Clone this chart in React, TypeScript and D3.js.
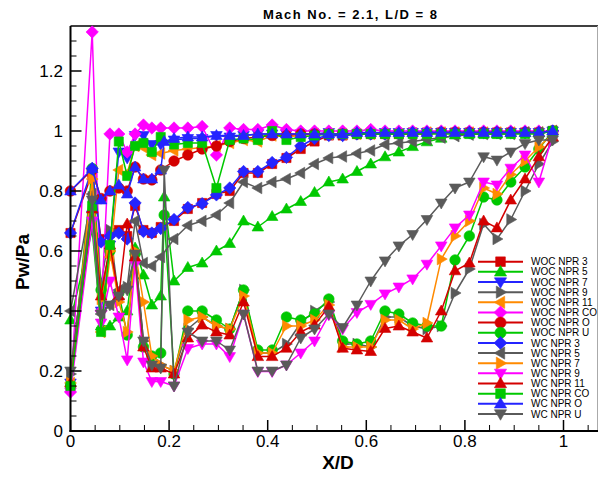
import React from 'react';
import * as d3 from 'd3';

// Pressure-tap stations along the cavity floor (X/D)
const X_STATIONS = [
  0, 0.044, 0.062, 0.08, 0.098, 0.115, 0.131, 0.148, 0.165, 0.183, 0.19, 0.21, 0.238,
  0.267, 0.296, 0.323, 0.351, 0.38, 0.409, 0.438, 0.467, 0.495, 0.524, 0.552, 0.581,
  0.609, 0.638, 0.666, 0.694, 0.723, 0.752, 0.78, 0.809, 0.838, 0.865, 0.893, 0.922,
  0.95, 0.978,
];

type V = number | null;

const WOC_NPR_3: V[] = [0.66, 0.86, 0.64, 0.66, 0.67, 0.65, 0.75, 0.67, 0.66, 0.68, null, 0.7, 0.74, 0.76, 0.79, 0.8, 0.86, 0.86, 0.89, 0.91, 0.94, 0.965, 0.985, 0.985, 0.99, 0.99, 0.99, 0.99, 0.995, 0.995, 0.995, 0.995, 0.995, 0.995, 0.995, 0.995, 0.995, 0.995, 1.0];
const WOC_NPR_5: V[] = [0.37, 0.67, 0.35, 0.35, 0.38, 0.4, 0.61, 0.52, 0.42, 0.45, 0.78, 0.5, 0.545, 0.56, 0.6, 0.625, 0.7, 0.68, 0.715, 0.74, 0.765, 0.795, 0.83, 0.84, 0.865, 0.89, 0.914, 0.93, 0.948, 0.964, 0.976, 0.987, 0.99, 0.99, 0.99, 0.995, 0.995, 0.995, 1.0];
const WOC_NPR_7: V[] = [0.16, 0.72, 0.4, 0.62, 0.93, 0.91, 0.985, 0.985, 0.955, 0.955, null, 0.97, 0.975, 0.975, 0.985, 0.98, 0.985, 0.99, 0.99, 0.99, 0.99, 0.99, 0.995, 0.985, 0.99, 0.99, 0.995, 0.995, 0.995, 0.995, 0.995, 0.995, 0.995, 0.995, 0.995, 0.995, 0.995, 0.995, 1.0];
const WOC_NPR_9: V[] = [0.19, 0.78, 0.49, 0.67, 0.44, 0.48, 0.59, 0.3, 0.22, 0.22, null, 0.2, 0.34, 0.38, 0.35, 0.34, 0.47, 0.26, 0.26, 0.29, 0.36, 0.4, 0.43, 0.29, 0.29, 0.28, 0.38, 0.38, 0.35, 0.34, 0.35, 0.46, 0.54, 0.69, 0.64, 0.705, 0.8, 0.89, 0.965];
const WOC_NPR_11: V[] = [0.16, 0.84, 0.33, 0.58, 0.87, 0.86, 0.95, 0.945, 0.92, 0.925, null, 0.935, 0.94, 0.945, 0.95, 0.96, 0.97, 0.965, 0.985, 0.98, 0.985, 0.99, 0.99, 0.99, 0.99, 0.99, 0.99, 0.99, 0.99, 0.995, 0.995, 0.995, 0.995, 0.995, 0.995, 0.995, 0.995, 0.995, 1.0];
const WOC_NPR_CO: V[] = [0.13, 1.33, 0.4, 0.99, 0.99, 0.93, 0.99, 1.02, 1.01, 1.01, null, 1.01, 1.01, 1.015, 0.92, 1.01, 1.005, 1.005, 1.02, 1.005, 1.0, 1.0, 1.0, 1.0, 1.0, 1.005, 1.0, 1.0, 1.0, 1.0, 1.0, 1.0, 1.0, 1.0, 1.0, 1.0, 1.0, 1.0, 1.0];
const WOC_NPR_O: V[] = [0.8, 0.87, 0.775, 0.8, 0.81, 0.8, 0.88, 0.84, 0.837, 0.87, null, 0.9, 0.92, 0.94, 0.95, 0.965, 0.975, 0.98, 0.985, 0.985, 0.99, 0.99, 0.99, 0.99, 0.99, 0.99, 0.99, 0.99, 0.99, 0.99, 0.995, 0.995, 0.995, 0.995, 0.995, 0.995, 0.995, 0.995, 1.0];
const WOC_NPR_U: V[] = [0.15, 0.875, 0.47, 0.6, 0.46, 0.32, 0.59, 0.28, 0.25, 0.26, 0.72, 0.19, 0.4, 0.4, 0.37, 0.34, 0.47, 0.27, 0.27, 0.38, 0.37, 0.39, 0.44, 0.3, 0.29, 0.3, 0.4, 0.39, 0.36, 0.35, 0.35, 0.57, 0.65, 0.78, 0.77, 0.83, 0.88, 0.94, 1.0];
const WC_NPR_3: V[] = [0.66, 0.875, 0.63, 0.65, 0.66, 0.64, 0.76, 0.665, 0.66, 0.675, null, 0.705, 0.745, 0.758, 0.787, 0.81, 0.865, 0.865, 0.895, 0.912, 0.95, 0.975, 0.985, 0.985, 0.99, 0.99, 0.99, 0.99, 0.995, 0.995, 0.995, 0.995, 0.995, 0.995, 0.995, 0.995, 0.995, 0.995, 1.0];
const WC_NPR_5: V[] = [0.4, 0.79, 0.39, 0.42, 0.47, 0.48, 0.7, 0.56, 0.55, 0.58, null, 0.64, 0.685, 0.7, 0.72, 0.76, 0.83, 0.81, 0.83, 0.84, 0.86, 0.89, 0.91, 0.915, 0.925, 0.935, 0.955, 0.96, 0.965, 0.972, 0.978, 0.983, 0.988, 0.99, 0.99, 0.99, 0.995, 0.995, 1.0];
const WC_NPR_7: V[] = [0.16, 0.84, 0.44, 0.6, 0.43, 0.33, 0.6, 0.43, 0.25, 0.22, null, 0.2, 0.37, 0.38, 0.35, 0.34, 0.45, 0.26, 0.26, 0.35, 0.35, 0.37, 0.42, 0.28, 0.28, 0.28, 0.37, 0.37, 0.34, 0.36, 0.573, 0.65, 0.7, 0.81, 0.79, 0.855, 0.9, 0.947, 0.99];
const WC_NPR_9: V[] = [0.13, 0.7, 0.36, 0.5, 0.38, 0.237, 0.556, 0.23, 0.165, 0.165, null, 0.15, 0.275, 0.29, 0.29, 0.248, 0.39, 0.198, 0.198, 0.22, 0.26, 0.3, 0.387, 0.34, 0.395, 0.422, 0.457, 0.48, 0.507, 0.556, 0.617, 0.677, 0.72, 0.83, 0.82, 0.876, 0.92, 0.83, 0.985];
const WC_NPR_11: V[] = [0.16, 0.74, 0.45, 0.62, 0.45, 0.69, 0.58, 0.28, 0.21, 0.21, null, 0.19, 0.31, 0.353, 0.33, 0.32, 0.43, 0.248, 0.248, 0.276, 0.33, 0.353, 0.415, 0.276, 0.27, 0.265, 0.342, 0.35, 0.33, 0.31, 0.4, 0.534, 0.56, 0.7, 0.677, 0.77, 0.84, 0.914, 0.98];
const WC_NPR_CO: V[] = [0.15, 0.75, 0.33, 0.62, 0.965, 0.85, 0.95, 0.96, 0.93, 0.98, null, 0.955, 0.96, 0.96, 0.81, 0.97, 0.975, 0.97, 1.0, 0.97, 0.98, 0.985, 0.99, 0.99, 0.99, 0.99, 0.99, 0.99, 0.99, 0.99, 0.99, 0.99, 0.99, 0.99, 0.99, 0.99, 0.99, 0.99, 1.0];
const WC_NPR_O: V[] = [0.8, 0.875, 0.77, 0.8, 0.82, 0.79, 0.88, 0.84, 0.84, 0.87, 0.965, 0.975, 0.98, 0.98, 0.985, 0.985, 0.985, 0.99, 0.99, 0.99, 0.99, 0.99, 0.99, 0.99, 0.995, 0.995, 0.995, 0.995, 0.995, 0.995, 0.995, 0.995, 0.995, 0.995, 0.995, 0.995, 0.995, 0.995, 1.0];
const WC_NPR_U: V[] = [0.2, 0.77, 0.39, 0.42, 0.45, 0.47, 0.59, 0.3, 0.22, 0.21, 0.87, 0.15, 0.33, 0.3, 0.3, 0.27, 0.39, 0.2, 0.2, 0.22, 0.31, 0.34, 0.39, 0.345, 0.42, 0.5, 0.567, 0.617, 0.655, 0.705, 0.76, 0.81, 0.83, 0.914, 0.903, 0.93, 0.958, 0.97, 0.97];

const SERIES_NAMES = [
  'WOC NPR 3', 'WOC NPR 5', 'WOC NPR 7', 'WOC NPR 9', 'WOC NPR 11', 'WOC NPR CO', 'WOC NPR O', 'WOC NPR U',
  'WC NPR 3', 'WC NPR 5', 'WC NPR 7', 'WC NPR 9', 'WC NPR 11', 'WC NPR CO', 'WC NPR O', 'WC NPR U',
];
const SERIES_VALUES = [
  WOC_NPR_3, WOC_NPR_5, WOC_NPR_7, WOC_NPR_9, WOC_NPR_11, WOC_NPR_CO, WOC_NPR_O, WOC_NPR_U,
  WC_NPR_3, WC_NPR_5, WC_NPR_7, WC_NPR_9, WC_NPR_11, WC_NPR_CO, WC_NPR_O, WC_NPR_U,
];

const RED = '#d40000';
const GREEN = '#00c800';
const BLUE = '#2424ff';
const GRAY = '#5a5a5a';
const ORANGE = '#ff8a00';
const MAGENTA = '#ff00ff';

const SERIES_COLORS = [RED, GREEN, BLUE, GRAY, ORANGE, MAGENTA, RED, GREEN, BLUE, GRAY, ORANGE, MAGENTA, RED, GREEN, BLUE, GRAY];
const SERIES_SHAPES = [
  'square', 'up', 'down', 'right', 'left', 'diamond', 'circle', 'circle',
  'diamond', 'left', 'right', 'down', 'up', 'square', 'up', 'down',
];

const X_TICKS = [0, 0.2, 0.4, 0.6, 0.8, 1];
const X_TICK_LABELS = ['0', '0.2', '0.4', '0.6', '0.8', '1'];
const Y_TICKS = [0, 0.2, 0.4, 0.6, 0.8, 1, 1.2];
const Y_TICK_LABELS = ['0', '0.2', '0.4', '0.6', '0.8', '1', '1.2'];

const FONT = 'Liberation Sans, Arial, Helvetica, sans-serif';

function markerPath(shape: string, k = 1): string {
  switch (shape) {
    case 'square': {
      const h = 4.6 * k;
      return `M${-h},${-h}H${h}V${h}H${-h}Z`;
    }
    case 'diamond': {
      const h = 6.2 * k;
      return `M0,${-h}L${h},0L0,${h}L${-h},0Z`;
    }
    case 'up':
      return `M0,${-6 * k}L${5.8 * k},${4 * k}L${-5.8 * k},${4 * k}Z`;
    case 'down':
      return `M0,${6 * k}L${5.8 * k},${-4 * k}L${-5.8 * k},${-4 * k}Z`;
    case 'right':
      return `M${6 * k},0L${-4 * k},${-5.8 * k}L${-4 * k},${5.8 * k}Z`;
    case 'left':
      return `M${-6 * k},0L${4 * k},${-5.8 * k}L${4 * k},${5.8 * k}Z`;
    default: {
      const r = 5.3 * k;
      return `M${-r},0A${r},${r} 0 1,0 ${r},0A${r},${r} 0 1,0 ${-r},0Z`;
    }
  }
}

export default function App() {
  const W = 600;
  const H = 477;
  const x = d3.scaleLinear().domain([0, 1.07]).range([70.5, 70.5 + 493 * 1.07]);
  const y = d3.scaleLinear().domain([0, 1.35]).range([431, 431 - 300 * 1.35]);

  const line = d3
    .line<[number, number]>()
    .x((d) => x(d[0]))
    .y((d) => y(d[1]));

  const seriesPoints = SERIES_VALUES.map((vals) =>
    vals
      .map((v, i) => (v === null ? null : ([X_STATIONS[i], v] as [number, number])))
      .filter((p): p is [number, number] => p !== null)
  );

  const xMinor = d3.range(0, 21).map((i) => i * 0.05 + 0.05).filter((v) => v < 1.07 && Math.abs(v * 5 - Math.round(v * 5)) > 1e-6);
  const yMinor = d3.range(1, 27).map((i) => i * 0.05).filter((v) => v < 1.35 && Math.abs(v * 5 - Math.round(v * 5)) > 1e-6);

  const x0 = x(0);
  const y0 = y(0);
  const xr = x(1.07);
  const yt = y(1.35);

  const legendTop = 261.7;
  const legendStep = 10.15;

  return (
    <svg
      width={W}
      height={H}
      viewBox={`0 0 ${W} ${H}`}
      style={{ position: 'absolute', left: 0, top: 0, background: '#fff' }}
      fontFamily={FONT}
    >
      <rect x={0} y={0} width={W} height={H} fill="#fff" />

      {/* title */}
      <text x={350} y={19} textAnchor="middle" fontSize={13} fontWeight="bold" textLength={174} lengthAdjust="spacing">
        Mach No. = 2.1, L/D = 8
      </text>

      {/* frame */}
      <line x1={x0} x2={xr} y1={yt} y2={yt} stroke="#000" strokeWidth={1.5} />
      <line x1={xr - 0.5} x2={xr - 0.5} y1={yt} y2={y0} stroke="#aaa" strokeWidth={1} />

      {/* series */}
      <g clipPath="url(#plotClip)">
        {seriesPoints.map((pts, s) => (
          <g key={SERIES_NAMES[s]}>
            <path d={line(pts) || ''} fill="none" stroke={SERIES_COLORS[s]} strokeWidth={1.5} strokeLinejoin="round" />
            {pts.map((p, i) => (
              <path
                key={i}
                d={markerPath(SERIES_SHAPES[s])}
                transform={`translate(${x(p[0])},${y(p[1])})`}
                fill={SERIES_COLORS[s]}
                stroke={SERIES_COLORS[s]}
                strokeWidth={0.6}
              />
            ))}
          </g>
        ))}
      </g>
      <defs>
        <clipPath id="plotClip">
          <rect x={0} y={yt - 10} width={W} height={y0 - yt + 20} />
        </clipPath>
      </defs>

      {/* axes */}
      <line x1={x0} x2={x0} y1={yt} y2={y0 + 1} stroke="#000" strokeWidth={2} />
      <line x1={x0 - 1} x2={xr} y1={y0} y2={y0} stroke="#000" strokeWidth={2} />

      {X_TICKS.map((t) => (
        <line key={`xt${t}`} x1={x(t)} x2={x(t)} y1={y0} y2={y0 - 11} stroke="#000" strokeWidth={1.5} />
      ))}
      {xMinor.map((t) => (
        <line key={`xm${t}`} x1={x(t)} x2={x(t)} y1={y0} y2={y0 - 6} stroke="#000" strokeWidth={1} />
      ))}
      {Y_TICKS.map((t) => (
        <line key={`yt${t}`} x1={x0} x2={x0 + 11} y1={y(t)} y2={y(t)} stroke="#000" strokeWidth={1.5} />
      ))}
      {yMinor.map((t) => (
        <line key={`ym${t}`} x1={x0} x2={x0 + 6} y1={y(t)} y2={y(t)} stroke="#000" strokeWidth={1} />
      ))}

      {X_TICKS.map((t, i) => (
        <text key={`xl${t}`} x={x(t)} y={447} textAnchor="middle" fontSize={17}>
          {X_TICK_LABELS[i]}
        </text>
      ))}
      {Y_TICKS.map((t, i) => (
        <text key={`yl${t}`} x={63} y={y(t) + 6} textAnchor="end" fontSize={17}>
          {Y_TICK_LABELS[i]}
        </text>
      ))}

      <text x={338} y={469} textAnchor="middle" fontSize={19} fontWeight="bold">
        X/D
      </text>
      <text transform="translate(29,262) rotate(-90)" textAnchor="middle" fontSize={19} fontWeight="bold">
        Pw/Pa
      </text>

      {/* legend */}
      {SERIES_NAMES.map((name, s) => {
        const ly = legendTop + s * legendStep;
        return (
          <g key={`lg${name}`}>
            <line x1={478} x2={523} y1={ly} y2={ly} stroke={SERIES_COLORS[s]} strokeWidth={2} />
            <path
              d={markerPath(SERIES_SHAPES[s], 1.05)}
              transform={`translate(500.5,${ly})`}
              fill={SERIES_COLORS[s]}
              stroke={SERIES_COLORS[s]}
              strokeWidth={0.6}
            />
            <text x={531} y={ly + 3.6} fontSize={10}>
              {name}
            </text>
          </g>
        );
      })}
    </svg>
  );
}
